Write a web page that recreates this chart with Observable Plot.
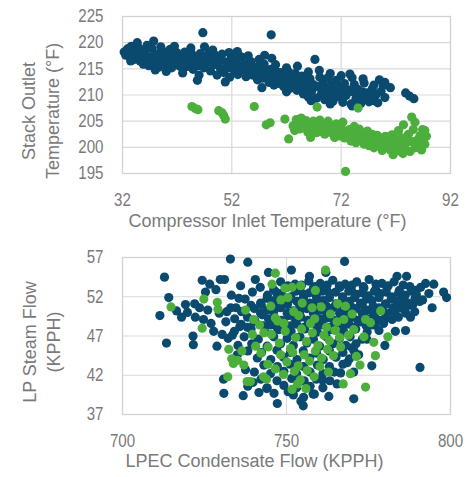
<!DOCTYPE html>
<html>
<head>
<meta charset="utf-8">
<script src="https://cdn.jsdelivr.net/npm/d3@7"></script>
<script src="https://cdn.jsdelivr.net/npm/@observablehq/plot@0.6"></script>
<style>
  html, body { margin: 0; padding: 0; background: #ffffff; }
  #chart { width: 470px; }
  #chart svg { display: block; }
</style>
</head>
<body>
<div id="chart"></div>
<script>
// ---------- Top chart: Stack Outlet Temperature vs Compressor Inlet Temperature ----------
const topXTicks = [32, 52, 72, 92];
const topYTicks = [195, 200, 205, 210, 215, 220, 225];
const topXTitle = "Compressor Inlet Temperature (°F)";
const topYTitle = "Stack Outlet\nTemperature (°F)";

// blue series [compressor inlet °F, stack outlet °F]
const topBlue = [
  [32.3,218.2],[32.6,217.6],[32.9,218.8],[33.2,218.4],[33.4,217.2],[33.6,219.3],[33.9,218],[34.1,216.8],[34.4,217.6],[34.7,220],[34.9,218.6],[35.2,216.5],[35.5,217.4],[35.8,215.9],[36.1,218.3],[36.4,216.7],
  [36.8,215.6],[37.1,217.3],[37.4,218.9],[37.7,220.3],[37.9,216.2],[38.3,217.8],[38.6,215.3],[38.9,216.8],[39.2,218.5],[39.5,217.1],[39.8,215.8],[40.1,217.9],[40.4,216.4],[40.7,218.7],[41,215.2],[41.3,217.2],[41.6,216],[41.9,218.1],[42.2,216.9],[42.5,215.5],
  [42.8,217.6],[43.1,216.3],[43.4,218.2],[43.7,215.4],[44,217],[44.3,216.1],[44.6,218],[44.9,214.9],[45.1,217.3],[45.4,216.4],[45.7,212.8],[45.9,215.6],[46.2,217.9],[46.5,216.8],[46.7,221.9],[46.9,215.2],[47.2,217.4],[47.5,216.2],[47.8,218],[48.1,214.6],[48.4,216.9],[48.7,215.8],[49,217.6],[49.3,213.8],[49.6,216.4],[49.9,215.1],
  [50.2,217.8],[50.5,214.3],[50.8,212.5],[51,216.3],[51.3,215.2],[51.6,213.4],[51.9,217.2],[52.2,215.8],[52.5,214.6],[52.8,216.7],[53.1,213.9],[53.4,215.4],[53.7,217.3],[54,214.8],[54.3,216],[54.6,213.5],[54.9,215.1],[55.2,214.2],[55.5,216.4],[55.8,213.8],
  [56.1,215.3],[56.4,214.1],[56.7,212.9],[57,215.7],[57.3,214.4],[57.6,213.2],[57.9,215.9],[58.2,214.7],[58.5,213.6],[58.8,212.4],[59.1,214.9],[59.2,221.5],[59.3,217],[59.4,213.4],[59.7,211.9],[60,214.6],[60.3,213.1],[60.6,212.2],[60.9,214.3],[61.2,212.9],[61.5,211.6],[61.8,213.8],
  [62.1,212.5],[62.4,214.4],[62.7,211.3],[63,213.2],[63.3,212],[63.6,214.1],[63.9,210.9],[64.2,212.7],[64.5,211.5],[64.8,213.6],[65.1,210.2],[65.4,212.3],[65.7,211.1],[66,209.6],[66.3,213.1],[66.6,210.7],[66.9,212],[67.2,216.8],[67.5,209.4],[67.8,211.6],
  [68.1,213.4],[68.4,210.3],[68.7,212.4],[69,209.1],[69.3,211.2],[69.6,213.3],[69.9,210],[70.2,211.9],[70.5,208.8],[70.8,210.9],[71.1,212.8],[71.4,209.7],[71.7,211.5],[72,210.4],[72.3,208.6],[72.6,212.2],[72.9,209.9],[73.2,211],[73.6,214],[73.8,208.3],[74.1,210.6],[74.4,212],[74.7,209.3],
  [75,211.1],[75.3,209.8],[75.6,208.4],[75.9,210.6],[76.2,212.3],[76.5,209.2],[76.8,210.4],[77.1,208.7],[77.4,209.9],[77.7,211.2],[78,208.9],[78.4,210.1],[78.7,208.5],[79,212.9],[79.3,210.7],[79.7,211.8],[80,209.5],[83.8,210.4],[84.5,209.8],[85.3,209.3],
  [33.5,216.5],[35,219],[36.5,219.5],[38,214.8],[39,219.2],[40,214.5],[41.5,219.3],[43,214.2],[44.5,219],[46,213.8],[47,219.2],[48.5,218.6],[50,216.9],[51.5,218.1],[53,218.3],[55,217.5],[57,216.8],[58,217.6],[60,215.8],[62,215.2],[64,215.5],[66,214.4],[68,214.7],[70,214.1],[72,213.7],[74,213.3],[76,213.1],[78,211.9],[80,212.4],[81,211.4],[66.5,208.9],[70,208.3],[74,207.9],[62,210.6],[57.5,211.4]
];

// green series
const topGreen = [
  [44.7,207.8],[45.3,207.4],[45.8,207.2],[49.6,207],[50.2,206.6],[50.5,206.1],[50.8,205.4],[56.1,207.8],[58.3,204.3],[59,204.7],[61.7,205.4],[62.4,201.6],[66.4,201.9],[67.6,207.7],[75.1,207.5],[72.8,195.4],[84.9,205.8],[85.5,204.8],[87.3,203.2],[81.5,198.6],[83.3,198.8],
  [63.2,204.1],[63.5,203.2],[63.8,205.3],[64.1,204.4],[64.4,203.5],[64.7,205.6],[65,204.8],[65.3,203.8],[65.6,205.1],[65.9,202.9],[66.2,204.3],[66.6,203.4],[66.9,205],[67.2,204.1],[67.5,202.8],[67.8,203.9],[68.1,205.2],[68.4,203],[68.7,204.4],[69,202.5],[69.3,203.7],[69.6,205],[69.9,204.1],[70.2,202.8],[70.5,203.9],[70.8,201.9],[71.1,204.5],[71.4,203.1],[71.7,202.2],[72,203.6],[72.3,204.8],[72.6,201.8],[72.9,203],
  [73.2,202.1],[73.5,203.4],[73.8,201.2],[74.1,202.6],[74.4,204],[74.7,200.9],[75,202.3],[75.3,203.5],[75.6,201.5],[75.9,202.7],[76.2,200.6],[76.5,201.9],[76.8,203.1],[77.1,200.3],[77.4,201.6],[77.7,202.5],[78,199.9],[78.3,201.2],[78.6,202.3],[78.9,200.5],[79.2,201.8],[79.5,199.4],[79.8,200.9],[80.1,202.1],[80.4,200.2],[80.7,201.4],[81,199.5],[81.3,202.4],[81.6,200.7],[81.9,201.6],[82.2,199.3],[82.5,203.2],[82.8,200.4],[83.1,201.8],[83.4,204.3],[83.7,199.6],[84,200.9],[84.3,202.5],[84.6,199.2],[84.9,201.1],[85.2,203.4],[85.5,199.9],[85.8,201.3],[86.1,200.2],[86.4,202.2],[86.7,199.5],[87,201.4],[87.3,200.6],[87.6,202.1],[86.9,203.4]
];

// ---------- Bottom chart: LP Steam Flow vs LPEC Condensate Flow ----------
const botXTicks = [700, 750, 800];
const botYTicks = [37, 42, 47, 52, 57];
const botXTitle = "LPEC Condensate Flow (KPPH)";
const botYTitle = "LP Steam Flow\n(KPPH)";

const botBlue = [
  [712.8,54.5],[714.1,51.9],[711.4,49.6],[713.4,46.1],[724.3,54.1],[725.3,52.6],[719.2,51.0],[721.5,47.0],[722,51.1],[722.2,49.4],[719.8,50.0],[721.6,45.9],[732.9,56.8],[738.2,56.4],[767.7,56.5],[731.1,54.2],[730.9,39.7],[736.8,39.4],[741.6,39.8],[747.2,38.4],[755.1,38.1],[754.4,38.7],[762.9,39.3],[770.5,39.0],[790.7,43.0],[794.9,53.6],[798.8,51.9],[797.9,52.6],[783.7,54.6],[786.6,54.6],[790.9,53.2],[794.4,50.6],[786.3,47.7],[787.8,49.4],[792.4,53.7],[793.4,52.4],[789.3,52.8],[783.2,47.6],[770.5,42.4],[770,45.5],[765.4,40.9],[728.8,45.7],[730.8,41.5],[724.7,49.1],[727,48.6],[729.5,49.9],[731.5,48.8],[726,50.3],[733,50.6],[735.5,51.8],[728.5,52.9],[736,53.4],[740.5,54.2],[744.5,55.1],[751.5,55.4],[757,54.6],[762,55.1],[733.5,47.1],[735,44.6],[737.5,42.7],[739.8,41.1],[744,40.3],[750.5,39.9],[758.5,39.6],[761,41.4],[766.5,42.3],[768.5,43.6],[772,44.6],[774.5,46.6],[777,48.4],[780.5,49.3],[782.5,50.6],[785,51.4],[788.5,51.0],[791.5,51.6],[780,45.8],[776,43.2],
  [716.5,50.2],[718,49.4],[723.5,50.6],[727.8,47.6],[730.4,47.2],[731.8,50.1],[734.6,50.6],[737.4,51.7],[739.6,52.6],[742,53.2],[733.2,52.2],[735.8,48.2],[726.6,53.6],[729.8,54.2],
  [748.2,53.9],[752.6,53.6],[756.8,54.0],[760.3,53.7],[764.1,54.1],[767.9,53.6],[771.4,53.9],[775.2,54.2],[779.1,53.7],[782.8,53.9],
  [750.4,53.4],[754.6,53.5],[758.7,53.3],[762.4,53.5],[766.1,53.4],[770,53.5],[773.4,53.3],[777.3,53.6],[781,53.4],[785.6,53.5],
  [746.1,52.9],[750.2,53.2],[754.1,52.8],[758.2,53.1],[762.2,52.9],[766.3,53.2],[769.8,52.8],[773.6,53.1],[777.2,52.9],[780.6,53.2],[784.4,52.8],[787.6,53.3],
  [746.8,52.6],[752.8,52.7],[757,52.5],[761,52.7],[765,52.6],[769,52.7],[773,52.5],[776.8,52.7],[780.4,52.6],[784.2,52.5],[788.1,52.7],
  [744.2,52.2],[748.4,52.4],[751.3,52.0],[755.2,52.3],[759.1,52.1],[763.2,52.4],[767.1,52.0],[771.2,52.3],[774.9,52.1],[778.6,52.4],[782.1,52.0],[786.2,52.2],[789.6,52.3],
  [744.1,51.8],[748,51.9],[751.3,51.7],[755.2,51.9],[759.2,51.7],[763.1,51.9],[767.1,51.7],[770.8,51.9],[774.4,51.7],[778.2,51.9],[781.9,51.7],[785.6,51.9],[789.2,51.8],
  [742.1,51.2],[746.2,51.5],[749.4,51.1],[753.2,51.4],[757.1,51.2],[761.2,51.5],[765.1,51.1],[769.2,51.4],[772.6,51.2],[776.1,51.5],[780.2,51.1],[783.6,51.4],[787.1,51.2],[790.6,51.4],
  [739.2,50.9],[742.3,51.0],[746.2,50.8],[750.3,51.0],[754.1,50.8],[758.1,51.0],[762.2,50.8],[766.1,51.0],[769.6,50.8],[773.1,51.0],[776.4,50.8],[780.1,51.0],[783.9,50.8],[787.2,50.9],
  [740.2,50.5],[744.1,50.3],[748.2,50.6],[752.1,50.2],[756.2,50.5],[760.1,50.3],[764.2,50.6],[768.1,50.2],[771.2,50.5],[774.6,50.3],[778.1,50.6],[782.2,50.2],[785.4,50.5],[789.1,50.1],
  [736.3,50.1],[742.1,49.9],[746.1,50.1],[750.2,49.9],[754.1,50.1],[758.2,49.9],[762.1,50.1],[766.2,49.9],[769.6,50.1],[773.1,49.9],[776.4,50.1],[780.2,49.9],[783.1,50.1],[786.4,49.9],
  [738.1,49.4],[742.6,49.7],[746.4,49.3],[750.6,49.6],[754.4,49.4],[758.6,49.7],[762.4,49.3],[766.6,49.6],[770.1,49.4],[773.4,49.7],[777.1,49.3],[780.4,49.6],[784.1,49.4],
  [734.2,49.2],[740.3,49.0],[744.5,49.2],[748.5,49.0],[752.6,49.2],[756.5,49.0],[760.6,49.2],[764.5,49.0],[768.3,49.2],[771.8,49.0],[775.3,49.2],[778.8,49.0],[782.2,49.1],
  [736.2,48.5],[740.1,48.8],[745.1,48.4],[749.2,48.7],[753.1,48.5],[757.2,48.8],[761.1,48.4],[765.2,48.7],[769.1,48.5],[772.6,48.8],[776.1,48.4],[779.6,48.6],
  [738.1,48.1],[742.9,48.3],[747.1,48.1],[751.2,48.3],[755.3,48.1],[759.2,48.3],[763.3,48.1],[767.2,48.3],[770.8,48.1],[774.3,48.3],
  [734.1,47.6],[739.2,47.9],[743.4,47.5],[747.6,47.8],[751.4,47.6],[755.6,47.9],[759.4,47.5],[763.6,47.8],[767.4,47.6],[771.1,47.9],[774.6,47.5],[778.2,47.7],
  [732.2,46.7],[737.1,46.9],[741.4,46.6],[746.1,46.9],[750.2,46.7],[754.1,46.9],[758.2,46.6],[762.1,46.9],[766.2,46.7],[769.4,46.9],[773.1,46.6],
  [735.2,45.8],[739.4,46.0],[744.1,45.7],[748.2,46.0],[752.1,45.8],[756.2,46.1],[760.1,45.7],[764.2,46.0],[768.1,45.8],[771.2,46.0],
  [738.2,45.1],[742.4,44.9],[747.1,45.2],[751.2,44.9],[755.1,45.1],[759.2,44.8],[763.1,45.1],[767.2,44.9],[770.6,45.1],
  [741.1,44.2],[745.2,44.0],[749.1,44.3],[753.2,44.0],[757.1,44.2],[761.2,44.0],[765.1,44.3],[769.2,44.1],
  [743.1,43.3],[747.2,43.1],[751.1,43.4],[755.2,43.1],[759.4,43.3],[763.1,43.1],[767.2,43.4],
  [740.2,42.4],[745.1,42.2],[749.2,42.5],[753.1,42.2],[757.2,42.4],[761.1,42.2],[764.6,42.4],
  [742.2,41.5],[747.1,41.3],[751.6,41.6],[755.4,41.3],[759.1,41.5],[763.2,41.3],
  [738.2,40.6],[744.1,40.4],[749.2,40.7],[753.1,40.4],[757.2,40.6],[761.1,40.4],
  [746.2,39.7],[752.1,39.5],[755.2,39.2],[758.1,39.6]
];

const botGreen = [
  [714.8,50.7],[724.3,48.0],[724.8,51.7],[729.1,50.4],[728.9,51.3],[732.4,45.3],[733.3,44.1],[733.8,43.5],[732.1,41.8],[738,41.2],[743.9,41.5],[746.6,55.0],[761.9,55.4],[745.6,53.6],[749.5,53.1],[751.7,53.2],[754.3,53.4],[758.8,52.8],[778.7,50.2],[780.9,46.9],[777.1,44.5],[774.1,40.5],[767.3,40.9],[776.6,46.2],[737.5,50.3],[740,49.1],[746.6,49.3],[749.2,48.6],[752.2,50.1],[757.3,48.6],[763.4,49.8],[765.4,48.8],[768,50.8],[770,49.8],[774.1,49.1],[775.6,48.7],[773.6,46.9],[768.9,47.1],[766.5,45.6],[769.5,42.2],[737,43.3],[739,41.2],[743,41.8],[751.7,40.2],
  [745.4,47.2],[747.8,46.1],[749.6,47.6],[751.2,45.4],[752.8,46.8],[754.6,47.9],[756.1,46.3],[757.9,47.4],[759.6,45.8],[761.4,47.1],[763.1,46.4],[764.8,47.7],[766.2,46.8],[748.2,44.6],[750.1,43.7],[751.9,44.9],[753.6,43.2],[755.4,44.6],[757.1,43.8],[758.8,45.1],[760.7,44.2],[762.5,45.3],[764.3,44.5],[746.6,42.8],[749.1,42.1],[752.4,42.5],[754.2,41.4],[756.3,42.6],[758.4,41.8],[760.2,43.1],[762.8,42.4],[753.4,40.9],[755.9,40.3],[742.2,44.8],[744.3,43.4],[740.6,45.7],[743.1,47.4],[741.8,48.4],[745.2,50.8],[748.3,51.6],[754.8,51.2],[760.6,50.7],[762.2,48.1],[765.6,51.1],[771.3,44.4],[772.4,43.3],[770.5,47.8],[758.6,49.2],[744.4,45.6],[747.3,48.9],[739.6,47.2],[736.4,45.1],[735.1,43.9],[750.4,51.9],[753.7,49.6],[757.8,50.6],[767.5,49.1]
];

// ---------- styling ----------
const BLUE = "#0a4a6f";
const GREEN = "#4caf3c";
const TEXT = "#7a7a7a";
const GRID = "#d9d9d9";
const FONT = "'Liberation Sans', Arial, sans-serif";

function scatter({xDomain, yDomain, xTicks, yTicks, xTitle, yTitle, blue, green,
                  height, marginTop, marginBottom, xTitleDx, xTitleDy, yTitleDx, yTitleDy}) {
  return Plot.plot({
    width: 470,
    height,
    marginLeft: 122,
    marginRight: 20,
    marginTop,
    marginBottom,
    style: {fontFamily: FONT, fontSize: "18px", color: TEXT, background: "#ffffff", overflow: "visible"},
    x: {domain: xDomain, label: null},
    y: {domain: yDomain, label: null},
    marks: [
      Plot.gridX(xTicks.slice(1, -1), {stroke: GRID, strokeOpacity: 1, strokeWidth: 1.2}),
      Plot.gridY(yTicks.slice(1, -1), {stroke: GRID, strokeOpacity: 1, strokeWidth: 1.2}),
      Plot.frame({stroke: "#d2d2d2", strokeWidth: 1.3}),
      Plot.axisX(xTicks, {tickSize: 0, tickPadding: 20, fontSize: 18, fill: TEXT, label: null}),
      Plot.axisY(yTicks, {tickSize: 0, tickPadding: 19, fontSize: 18, fill: TEXT, label: null}),
      Plot.dot(blue, {x: d => d[0], y: d => d[1], r: 4.6, fill: BLUE, stroke: "none"}),
      Plot.dot(green, {x: d => d[0], y: d => d[1], r: 4.6, fill: GREEN, stroke: "none"}),
      Plot.text([xTitle], {frameAnchor: "bottom", textAnchor: "middle", lineAnchor: "bottom", dx: xTitleDx, dy: xTitleDy,
                           fontSize: 18, fill: TEXT}),
      Plot.text([yTitle], {frameAnchor: "left", textAnchor: "middle", rotate: -90, lineAnchor: "middle", lineHeight: 1.3,
                           dx: yTitleDx, dy: yTitleDy, fontSize: 18, fill: TEXT})
    ]
  });
}

const chart = document.getElementById("chart");
chart.append(scatter({
  xDomain: [32, 92], yDomain: [195, 225], xTicks: topXTicks, yTicks: topYTicks,
  xTitle: topXTitle, yTitle: topYTitle, blue: topBlue, green: topGreen,
  height: 240, marginTop: 16, marginBottom: 67,
  xTitleDx: -19, xTitleDy: 53, yTitleDx: -83, yTitleDy: 16
}));
chart.append(scatter({
  xDomain: [700, 800], yDomain: [37, 57], xTicks: botXTicks, yTicks: botYTicks,
  xTitle: botXTitle, yTitle: botYTitle, blue: botBlue, green: botGreen,
  height: 237, marginTop: 17, marginBottom: 63,
  xTitleDx: -32, xTitleDy: 52, yTitleDx: -82, yTitleDy: 6
}));

// tick labels in the reference are set in a condensed face: narrow them horizontally
chart.querySelectorAll('g[aria-label$="tick label"] text').forEach(t => {
  const w = t.getComputedTextLength();
  t.setAttribute("textLength", (w * 0.84).toFixed(1));
  t.setAttribute("lengthAdjust", "spacingAndGlyphs");
});
</script>
</body>
</html>
